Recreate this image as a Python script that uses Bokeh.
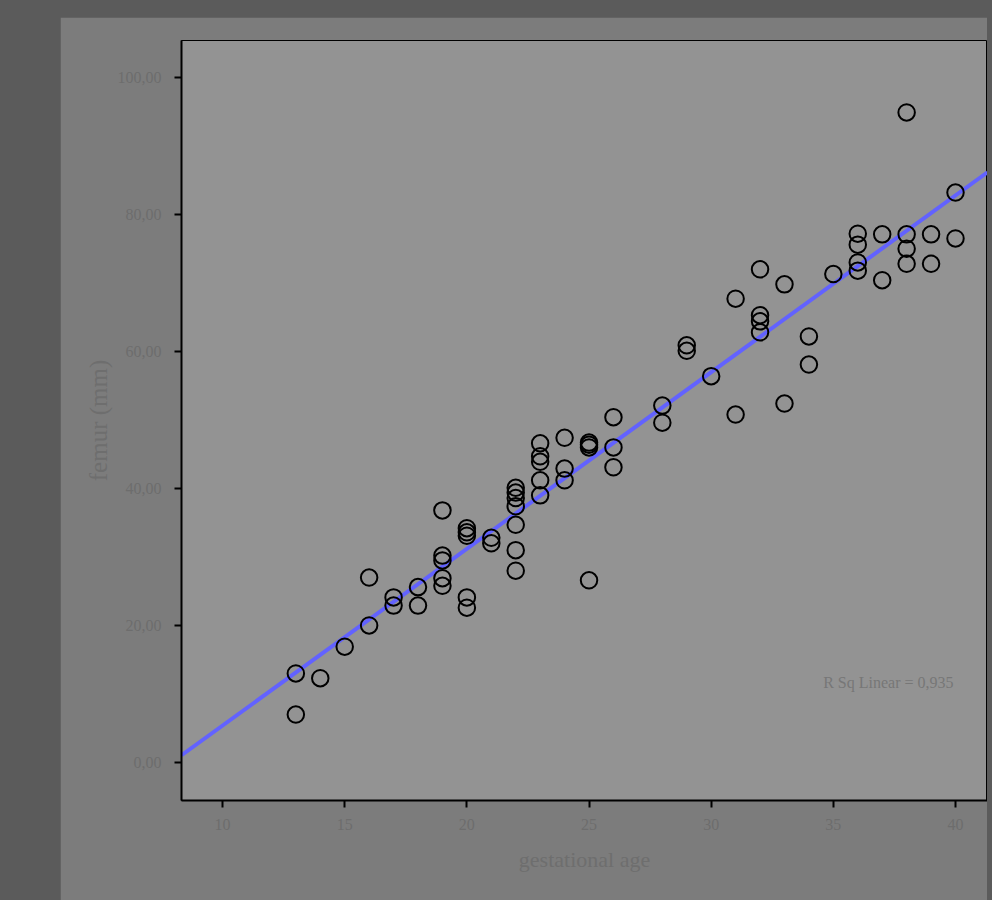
import re
import numpy as np
from bokeh.plotting import figure
from bokeh.models import Range1d, FixedTicker, CustomJSTickFormatter, Label, ColumnDataSource
from bokeh.embed import file_html
from bokeh.resources import INLINE

# ---- data ----
gest_age = [13, 13, 14, 15, 16, 16, 17, 17, 18, 18,
            19, 19, 19, 19, 19,
            20, 20, 20, 20, 20,
            21, 21,
            22, 22, 22, 22, 22, 22, 22,
            23, 23, 23, 23, 23,
            24, 24, 24,
            25, 25, 25, 25,
            26, 26, 26,
            28, 28, 29, 29, 30, 31, 31,
            32, 32, 32, 32, 33, 33, 34, 34, 35,
            36, 36, 36, 36, 37, 37,
            38, 38, 38, 38, 39, 39, 40, 40]
femur = [13.0, 7.0, 12.3, 16.9, 27.0, 20.0, 24.1, 22.9, 25.6, 22.9,
         36.8, 30.2, 29.5, 26.9, 25.8,
         34.2, 33.6, 33.1, 24.1, 22.6,
         32.8, 32.0,
         40.1, 39.4, 38.6, 37.4, 34.7, 31.0, 28.0,
         46.6, 44.7, 43.9, 41.2, 39.0,
         47.4, 42.9, 41.2,
         46.7, 46.4, 46.0, 26.6,
         50.4, 46.0, 43.1,
         52.1, 49.6, 60.9, 60.1, 56.4, 67.7, 50.8,
         72.0, 65.3, 64.4, 62.8, 69.8, 52.4, 62.2, 58.1, 71.3,
         77.2, 75.6, 73.0, 71.8, 77.1, 70.4,
         94.9, 77.1, 75.0, 72.8, 77.1, 72.8, 83.2, 76.5]
x_ticks = [10, 15, 20, 25, 30, 35, 40]
y_ticks = [0, 20, 40, 60, 80, 100]
r_sq_text = "R Sq Linear = 0,935"
x_title = "gestational age"
y_title = "femur (mm)"

X_MIN, X_MAX = 8.32, 41.31
Y_MIN, Y_MAX = -5.55, 105.4

FONT = "Liberation Serif"
PANEL = "#7c7c7c"
PLOTBG = "#939393"
DARK = "#5b5b5b"

p = figure(width=927, height=883, output_backend="svg", toolbar_location=None,
           x_range=Range1d(X_MIN, X_MAX), y_range=Range1d(Y_MIN, Y_MAX),
           min_border_left=121, min_border_right=0, min_border_top=23, min_border_bottom=100,
           background_fill_color=PLOTBG, border_fill_color=PANEL)
p.styles = {"margin-left": "60px", "margin-top": "17px"}

p.xgrid.visible = False
p.ygrid.visible = False
p.outline_line_color = "black"
p.outline_line_width = 1

for ax in (p.xaxis[0], p.yaxis[0]):
    ax.axis_line_color = "black"
    ax.axis_line_width = 2
    ax.major_tick_line_color = "black"
    ax.major_tick_line_width = 2
    ax.major_tick_out = 7
    ax.major_tick_in = 0
    ax.minor_tick_line_color = None
    ax.major_label_text_font = FONT
    ax.major_label_text_font_size = "16px"
    ax.major_label_text_color = "#6d6d6d"
    ax.axis_label_text_font = FONT
    ax.axis_label_text_font_style = "normal"
    ax.axis_label_text_color = "#6e6e6e"

p.xaxis[0].axis_label_text_font_size = "22px"
p.yaxis[0].axis_label_text_font_size = "25px"
p.xaxis[0].ticker = FixedTicker(ticks=x_ticks)
p.yaxis[0].ticker = FixedTicker(ticks=y_ticks)
p.yaxis[0].formatter = CustomJSTickFormatter(code="return tick.toFixed(2).replace('.', ',');")
p.xaxis[0].major_label_standoff = 11
p.yaxis[0].major_label_standoff = 13
p.xaxis[0].axis_label = x_title
p.yaxis[0].axis_label = y_title
p.xaxis[0].axis_label_standoff = 14
p.yaxis[0].axis_label_standoff = 3

# regression line from the data
slope, intercept = np.polyfit(np.array(gest_age, float), np.array(femur, float), 1)
fit_x = [X_MIN, X_MAX]
fit_y = [intercept + slope * v for v in fit_x]
p.line(fit_x, fit_y, line_color="#6262ff", line_width=4)

src = ColumnDataSource(dict(x=gest_age, y=femur))
p.scatter("x", "y", source=src, marker="circle", size=16.5, fill_color=None,
          line_color="black", line_width=2)

p.add_layout(Label(x=39.92, y=11.7, text=r_sq_text, text_align="right",
                   text_baseline="middle", text_font=FONT, text_font_size="16px",
                   text_color="#777777"))

html = file_html(p, INLINE)
style = ("<style>html, body { background-color: %s !important; margin: 0 !important; "
         "padding: 0 !important; overflow: hidden; }</style>" % DARK)
html = re.sub(r"</head>", style + "</head>", html, count=1, flags=re.I)
open("out.html", "w").write(html)
